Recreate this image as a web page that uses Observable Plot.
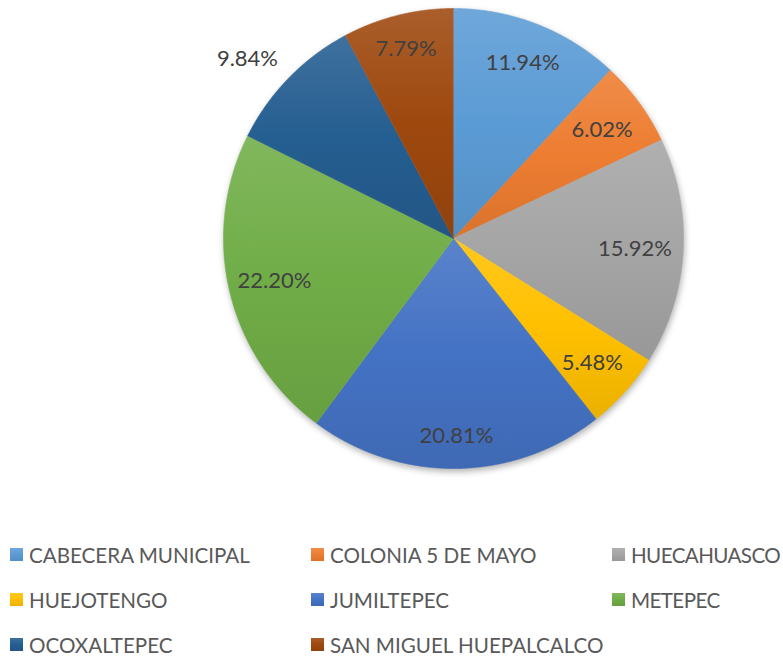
<!DOCTYPE html>
<html>
<head>
<meta charset="utf-8">
<script src="https://cdn.jsdelivr.net/npm/d3@7"></script>
<script src="https://cdn.jsdelivr.net/npm/@observablehq/plot@0.6"></script>
<style>
  html, body { margin: 0; padding: 0; background: #fff; }
  #chart { width: 783px; height: 656px; position: relative; overflow: hidden; }
  .legend { display: grid; grid-template-columns: 301px 301px 170px; grid-auto-rows: 45px; padding-left: 10px; margin-top: 12px;
            font-family: Lato, "Open Sans", sans-serif; font-size: 20.6px; color: #595959; }
  .item { display: flex; align-items: center; white-space: nowrap; }
  .item:nth-child(3n) { letter-spacing: -0.6px; }
  .sw { width: 13px; height: 13px; margin-right: 6px; flex: none; }
</style>
</head>
<body>
<div id="chart"></div>
<script>
const names = ["CABECERA MUNICIPAL", "COLONIA 5 DE MAYO", "HUECAHUASCO", "HUEJOTENGO",
               "JUMILTEPEC", "METEPEC", "OCOXALTEPEC", "SAN MIGUEL HUEPALCALCO"];
const values = [11.94, 6.02, 15.92, 5.48, 20.81, 22.20, 9.84, 7.79];
const labels = ["11.94%", "6.02%", "15.92%", "5.48%", "20.81%", "22.20%", "9.84%", "7.79%"];
const colors = ["#5B9BD5", "#ED7D31", "#A5A5A5", "#FFC000", "#4472C4", "#70AD47", "#255E91", "#9E480E"];

// layout
const W = 783, H = 520, R = 230, CX = 453, CY = 238;
const labelRadius = [0.82, 0.80, 0.79, 0.81, 0.86, 0.80, 1.19, 0.85];
const labelShift = [[0, 0], [0, 0], [0, 0], [0, 0], [0, 0], [0, 0], [-10, -11], [0, 0]]; // px (x right, y up)

const slices = d3.pie().sort(null).value(d => d)(values);
const pts = [];
slices.forEach((s, i) => {
  pts.push({i, x: 0, y: 0});
  const n = Math.max(2, Math.ceil((s.endAngle - s.startAngle) / 0.004));
  for (let k = 0; k <= n; k++) {
    const a = s.startAngle + (s.endAngle - s.startAngle) * k / n;
    pts.push({i, x: R * Math.sin(a), y: R * Math.cos(a)});
  }
});
const labelData = slices.map((s, i) => {
  const a = (s.startAngle + s.endAngle) / 2;
  const r = R * labelRadius[i];
  return {text: labels[i], x: r * Math.sin(a) + labelShift[i][0], y: r * Math.cos(a) + labelShift[i][1]};
});

const plot = Plot.plot({
  width: W, height: H,
  margin: 0,
  x: {domain: [-CX, W - CX], axis: null},
  y: {domain: [CY - H, CY], axis: null},
  color: {type: "identity"},
  marks: [
    Plot.line(pts, {x: "x", y: "y", z: "i", fill: d => `url(#g${d.i})`, stroke: d => `url(#g${d.i})`, strokeWidth: 0.6, curve: "linear"}),
    Plot.text(labelData, {x: "x", y: "y", text: "text", fill: "#404040", fontSize: 22, fontFamily: "Lato, 'Open Sans', sans-serif"})
  ]
});

// gradients
function shade(c, k) { return k > 0 ? d3.interpolateRgb(c, "#fff")(k) : d3.interpolateRgb(c, "#000")(-k); }
const ns = "http://www.w3.org/2000/svg";
const defs = document.createElementNS(ns, "defs");
colors.forEach((c, i) => {
  const g = document.createElementNS(ns, "linearGradient");
  g.setAttribute("id", "g" + i);
  g.setAttribute("x1", "0"); g.setAttribute("y1", "0"); g.setAttribute("x2", "0"); g.setAttribute("y2", "1");
  [[0, shade(c, 0.12)], [0.5, c], [1, shade(c, -0.08)]].forEach(([o, col]) => {
    const st = document.createElementNS(ns, "stop");
    st.setAttribute("offset", o); st.setAttribute("stop-color", col);
    g.appendChild(st);
  });
  defs.appendChild(g);
});
plot.insertBefore(defs, plot.firstChild);
const lineG = plot.querySelector('g[aria-label="line"]');
if (lineG) lineG.style.filter = "drop-shadow(1px 3px 3px rgba(0,0,0,0.30))";

const chart = document.getElementById("chart");
chart.appendChild(plot);

const legend = document.createElement("div");
legend.className = "legend";
names.forEach((n, i) => {
  const it = document.createElement("div");
  it.className = "item";
  const sw = document.createElement("span");
  sw.className = "sw";
  sw.style.background = `linear-gradient(${shade(colors[i], 0.12)}, ${colors[i]}, ${shade(colors[i], -0.08)})`;
  const tx = document.createElement("span");
  tx.textContent = n;
  it.appendChild(sw); it.appendChild(tx);
  legend.appendChild(it);
});
chart.appendChild(legend);
</script>
</body>
</html>
